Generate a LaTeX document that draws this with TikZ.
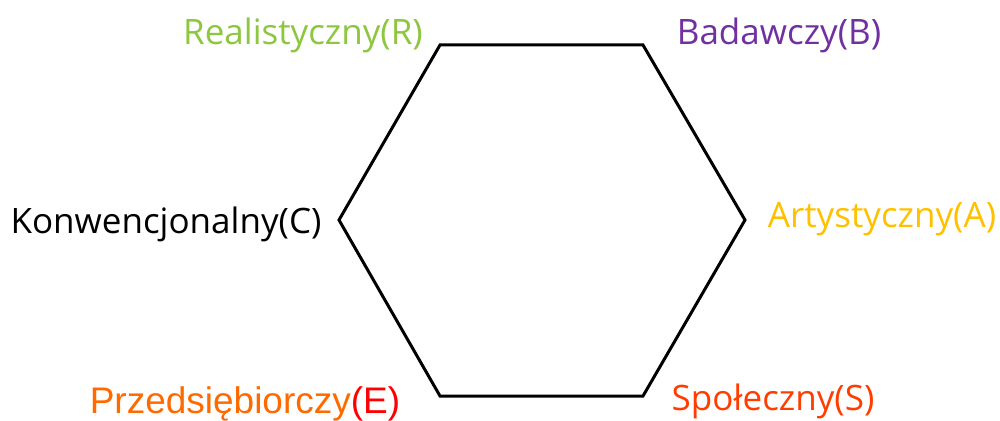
\documentclass[tikz,border=0pt]{standalone}
\usepackage{fontspec}
\setmainfont{Open Sans}
\newfontfamily\arialf{Liberation Sans}
\definecolor{cR}{HTML}{8DC63F}
\definecolor{cB}{HTML}{7030A0}
\definecolor{cA}{HTML}{FFC000}
\definecolor{cE}{HTML}{FF6A00}
\definecolor{cEr}{HTML}{FF0000}
\definecolor{cS}{HTML}{FF3D00}
\begin{document}
\begin{tikzpicture}[x=1pt,y=-1pt,
  lbl/.style={inner sep=0pt,anchor=base,font=\fontsize{35}{38}\selectfont},
  hexline/.style={line width=3pt,line join=miter}]
\useasboundingbox (0,0) rectangle (1000,420);
\coordinate (v1) at (440,45);
\coordinate (v2) at (643,45);
\coordinate (v3) at (745,220);
\coordinate (v4) at (643,396);
\coordinate (v5) at (440,396);
\coordinate (v6) at (339,220);
\draw[hexline] (v1) -- (v2) -- (v3) -- (v4) -- (v5) -- (v6) -- cycle;
\node[lbl,text=cR] (R) at (303,45) {Realistyczny(R)};
\node[lbl,text=cB] (B) at (779,45) {Badawczy(B)};
\node[lbl,text=black] (C) at (166,233) {Konwencjonalny(C)};
\node[lbl,text=cA] (A) at (882,227) {Artystyczny(A)};
\node[lbl,font=\arialf\fontsize{37}{40}\selectfont] (E) at (245,413) {\textcolor{cE}{Przedsiębiorczy}\textcolor{cEr}{(E)}};
\node[lbl,text=cS] (S) at (773,410) {Społeczny(S)};
\end{tikzpicture}
\end{document}
